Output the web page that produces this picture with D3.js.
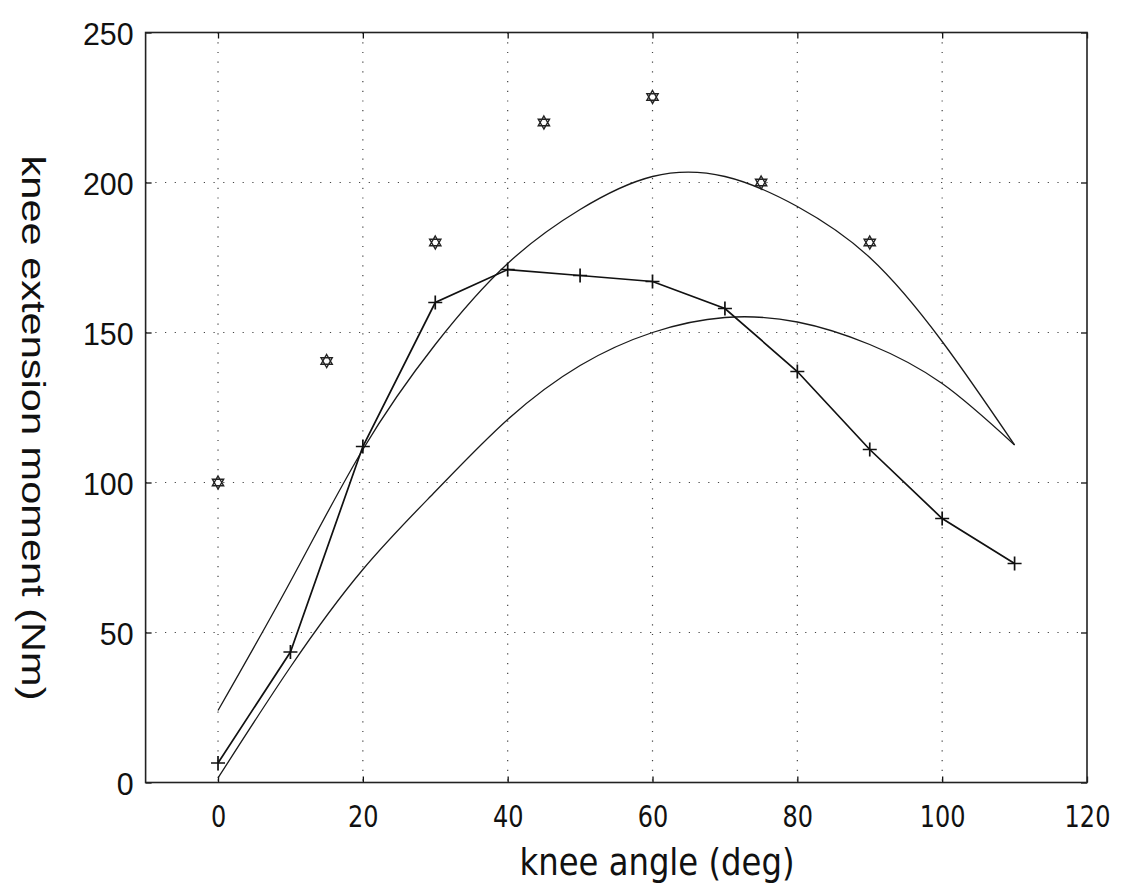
<!DOCTYPE html>
<html>
<head>
<meta charset="utf-8">
<script src="https://cdn.jsdelivr.net/npm/d3@7"></script>
<style>
  body { margin: 0; background: #fff; }
  svg text { fill: #111; }
</style>
</head>
<body>
<svg class="knee" width="1124" height="889"></svg>
<script>
// measured points (+ markers, joined)
const measAngle = [0, 10, 20, 30, 40, 50, 60, 70, 80, 90, 100, 110];
const measMoment = [6.5, 43.5, 112, 160, 171, 169, 167, 158, 137, 111, 88, 73];

// hexagram points
const starAngle = [0, 15, 30, 45, 60, 75, 90];
const starMoment = [100, 140.5, 180, 220, 228.5, 200, 180];

const fitAngle = [0, 10, 20, 30, 40, 50, 60, 70, 80, 90, 100, 110];
const fitUpper = [24, 67, 111, 146, 173, 191, 202, 202, 192, 175, 147, 112.5];
const fitLower = [1.5, 38.5, 71, 97, 121, 139, 150, 155, 153.5, 146, 133, 112.5];

const xTicks = [0, 20, 40, 60, 80, 100, 120];
const yTicks = [0, 50, 100, 150, 200, 250];

const svg = d3.select("svg.knee"),
  margin = { top: 32.5, right: 37, bottom: 106.5, left: 145.6 },
  width = +svg.attr("width") - margin.left - margin.right,
  height = +svg.attr("height") - margin.top - margin.bottom;

const chartG = svg
  .append("g")
  .attr("transform", `translate(${margin.left}, ${margin.top})`);

const xScale = d3.scaleLinear().domain([-10, 120]).range([0, width]);
const yScale = d3.scaleLinear().domain([0, 250]).range([height, 0]);

// GRID (dotted)
chartG
  .append("g")
  .selectAll("line")
  .data(xTicks.filter((d) => d > -10 && d < 120))
  .enter()
  .append("line")
  .attr("x1", (d) => xScale(d))
  .attr("x2", (d) => xScale(d))
  .attr("y1", 0)
  .attr("y2", height)
  .attr("stroke", "#444")
  .attr("stroke-width", 1.2)
  .attr("stroke-dasharray", "1.2,8.5");

chartG
  .append("g")
  .selectAll("line")
  .data(yTicks.filter((d) => d > 0 && d < 250))
  .enter()
  .append("line")
  .attr("x1", 0)
  .attr("x2", width)
  .attr("y1", (d) => yScale(d))
  .attr("y2", (d) => yScale(d))
  .attr("stroke", "#444")
  .attr("stroke-width", 1.2)
  .attr("stroke-dasharray", "1.2,8.5");

// AXES - matlab style box with inward ticks
const xAxis = d3.axisBottom(xScale).tickValues(xTicks).tickSize(-6).tickSizeOuter(0);
const yAxis = d3.axisLeft(yScale).tickValues(yTicks).tickSize(-6).tickSizeOuter(0);

chartG
  .append("g")
  .attr("class", "x axis")
  .attr("transform", `translate(0, ${height})`)
  .call(xAxis)
  .call((g) => g.select(".domain").remove())
  .call((g) =>
    g
      .selectAll(".tick text")
      .attr("font-family", "'DejaVu Sans', sans-serif")
      .attr("font-size", 30)
      .attr("x", 0)
      .attr("y", 0)
      .attr("dy", null)
      .attr("transform", "translate(0, 44.5) scale(0.8, 1)")
  );

chartG
  .append("g")
  .attr("class", "y axis")
  .call(yAxis)
  .call((g) => g.select(".domain").remove())
  .call((g) =>
    g
      .selectAll(".tick text")
      .attr("font-family", "'Liberation Sans', Arial, sans-serif")
      .attr("font-size", 32)
      .attr("x", 0)
      .attr("dy", "0.36em")
      .attr("transform", "translate(-12, 0) scale(0.95, 1)")
  );

// top & right ticks
chartG
  .append("g")
  .call(d3.axisTop(xScale).tickValues(xTicks).tickSize(-6).tickSizeOuter(0).tickFormat(""))
  .call((g) => g.select(".domain").remove());
chartG
  .append("g")
  .attr("transform", `translate(${width}, 0)`)
  .call(d3.axisRight(yScale).tickValues(yTicks).tickSize(-6).tickSizeOuter(0).tickFormat(""))
  .call((g) => g.select(".domain").remove());

chartG.selectAll(".tick line").attr("stroke", "#111").attr("stroke-width", 1.3);

chartG
  .append("rect")
  .attr("x", 0)
  .attr("y", 0)
  .attr("width", width)
  .attr("height", height)
  .attr("fill", "none")
  .attr("stroke", "#222")
  .attr("stroke-width", 1.6);

// FITTED CURVES
const smoothLine = d3
  .line()
  .curve(d3.curveNatural)
  .x((d) => xScale(d[0]))
  .y((d) => yScale(d[1]));

[fitUpper, fitLower].forEach((vals) => {
  chartG
    .append("path")
    .datum(fitAngle.map((a, i) => [a, vals[i]]))
    .attr("d", smoothLine)
    .attr("fill", "none")
    .attr("stroke", "#1a1a1a")
    .attr("stroke-width", 1.3);
});

// MEASURED LINE
const measLine = d3
  .line()
  .x((d) => xScale(d[0]))
  .y((d) => yScale(d[1]));

const measData = measAngle.map((a, i) => [a, measMoment[i]]);

chartG
  .append("path")
  .datum(measData)
  .attr("d", measLine)
  .attr("fill", "none")
  .attr("stroke", "#111")
  .attr("stroke-width", 1.7);

chartG
  .selectAll("path.plus")
  .data(measData)
  .enter()
  .append("path")
  .attr("class", "plus")
  .attr("d", "M-7,0H7M0,-7V7")
  .attr("transform", (d) => `translate(${xScale(d[0])}, ${yScale(d[1])})`)
  .attr("stroke", "#111")
  .attr("stroke-width", 1.7);

// HEXAGRAMS
const r = 6.5;
const tri = (rot) =>
  d3
    .range(3)
    .map((k) => {
      const a = rot + (k * 2 * Math.PI) / 3;
      return [r * Math.sin(a), -r * Math.cos(a)];
    });
const hexPath =
  "M" + tri(0).join("L") + "Z" + "M" + tri(Math.PI).join("L") + "Z";

chartG
  .selectAll("path.star")
  .data(starAngle.map((a, i) => [a, starMoment[i]]))
  .enter()
  .append("path")
  .attr("class", "star")
  .attr("d", hexPath)
  .attr("transform", (d) => `translate(${xScale(d[0])}, ${yScale(d[1])})`)
  .attr("fill", "none")
  .attr("stroke", "#222")
  .attr("stroke-width", 1.4);

// AXIS TITLES
svg
  .append("text")
  .attr("x", 657)
  .attr("y", 875)
  .attr("text-anchor", "middle")
  .attr("font-family", "'DejaVu Sans', sans-serif")
  .attr("font-size", 38)
  .attr("textLength", 275)
  .attr("lengthAdjust", "spacingAndGlyphs")
  .text("knee angle (deg)");

svg
  .append("text")
  .attr("transform", `translate(22, ${428}) rotate(90)`)
  .attr("text-anchor", "middle")
  .attr("font-family", "'Liberation Sans', Arial, sans-serif")
  .attr("font-size", 33)
  .attr("textLength", 545)
  .attr("lengthAdjust", "spacingAndGlyphs")
  .text("knee extension moment (Nm)");
</script>
</body>
</html>
